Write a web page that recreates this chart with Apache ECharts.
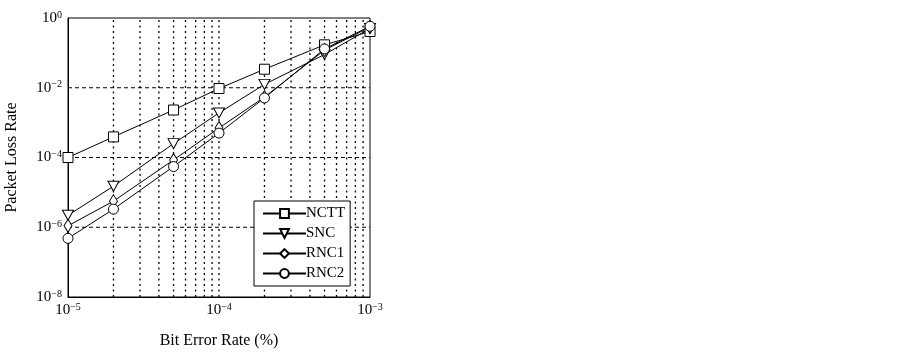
<!DOCTYPE html>
<html>
<head>
<meta charset="utf-8">
<script src="https://cdn.jsdelivr.net/npm/echarts@6/dist/echarts.min.js"></script>
<style>html,body{margin:0;padding:0;background:#fff;overflow:hidden}#c{width:903px;height:354px}</style>
</head>
<body>
<div id="c"></div>
<script>
const berValues = [1e-5, 2e-5, 5e-5, 1e-4, 2e-4, 5e-4, 1e-3];
const seriesNames = ['NCTT', 'SNC', 'RNC1', 'RNC2'];
const ncttValues = [1.0e-4, 3.9e-4, 2.3e-3, 9.5e-3, 3.4e-2, 0.17, 0.41];
const sncValues  = [2.2e-6, 1.5e-5, 2.5e-4, 1.9e-3, 1.25e-2, 0.09, 0.5];
const rnc1Values = [1.1e-6, 5.6e-6, 8.5e-5, 7.0e-4, 5.4e-3, 0.12, 0.55];
const rnc2Values = [4.8e-7, 3.3e-6, 5.5e-5, 5.0e-4, 5.1e-3, 0.13, 0.58];
const xGridValues = [2e-5, 3e-5, 4e-5, 5e-5, 6e-5, 7e-5, 8e-5, 9e-5, 1e-4, 2e-4, 3e-4, 4e-4, 5e-4, 6e-4, 7e-4, 8e-4, 9e-4];
const yGridValues = [1e-6, 1e-4, 1e-2];
const xRange = [1e-5, 1e-3];
const yRange = [1e-8, 1];

const FONT = 'Liberation Serif';
const symbols = ['rect', 'triangle', 'diamond', 'circle'];
const symbolRot = [0, 180, 0, 0];
const symbolSizes = [[10, 10], [11, 10], [8, 13], [10, 10]];
const allValues = [ncttValues, sncValues, rnc1Values, rnc2Values];

function powLabel(v) {
  const e = Math.round(Math.log10(v));
  const s = e < 0 ? '\u2212' + (-e) : String(e);
  return '{b|10}{s|' + s + '}';
}
const rich = {
  b: {fontFamily: FONT, fontSize: 15, color: '#000', lineHeight: 16, verticalAlign: 'middle'},
  s: {fontFamily: FONT, fontSize: 10, color: '#000', lineHeight: 10, verticalAlign: 'top'}
};

const vGridData = [];
xGridValues.forEach(v => { vGridData.push([v, yRange[0]], [v, yRange[1]], '-'); });
const hGridData = [];
yGridValues.forEach(v => { hGridData.push([xRange[0], v], [xRange[1], v], '-'); });

const series = seriesNames.map((name, i) => ({
  name: name,
  type: 'line',
  data: berValues.map((x, j) => [x, allValues[i][j]]),
  symbol: symbols[i],
  symbolRotate: symbolRot[i],
  symbolSize: symbolSizes[i],
  showAllSymbol: true,
  lineStyle: {color: '#000', width: 1},
  itemStyle: {color: '#fff', borderColor: '#000', borderWidth: 1},
  emphasis: {disabled: true},
  animation: false,
  z: 5
}));
series.push({
  name: 'vgrid', type: 'line', data: vGridData, symbol: 'none', silent: true, animation: false,
  connectNulls: false,
  lineStyle: {color: '#000', width: 1.3, type: [2, 3.5]}, z: 1
});
series.push({
  name: 'hgrid', type: 'line', data: hGridData, symbol: 'none', silent: true, animation: false,
  connectNulls: false,
  lineStyle: {color: '#000', width: 1, type: [4, 3]}, z: 1
});

const chart = echarts.init(document.getElementById('c'), null, {renderer: 'canvas', width: 903, height: 354});
chart.setOption({
  backgroundColor: '#fff',
  animation: false,
  grid: {left: 68, top: 18, width: 302, height: 287, show: true, borderColor: '#000', borderWidth: 1, backgroundColor: 'transparent'},
  legend: {
    data: seriesNames,
    orient: 'vertical',
    left: 254, top: 201,
    itemWidth: 43, itemHeight: 11, itemGap: 5,
    padding: [5, 5, 5, 8],
    backgroundColor: '#fff',
    borderColor: '#000', borderWidth: 1,
    textStyle: {fontFamily: FONT, fontSize: 15, lineHeight: 14, color: '#000', padding: [0, 0, 0, -5]},
    selectedMode: false
  },
  xAxis: {
    type: 'log', logBase: 10, min: xRange[0], max: xRange[1],
    name: 'Bit Error Rate (%)', nameLocation: 'middle', nameGap: 36,
    nameTextStyle: {fontFamily: FONT, fontSize: 16, color: '#000'},
    axisLine: {show: true, lineStyle: {color: '#000'}},
    axisTick: {show: false},
    splitLine: {show: false},
    axisLabel: {formatter: powLabel, rich: rich, margin: 5}
  },
  yAxis: {
    type: 'log', logBase: 10, min: yRange[0], max: yRange[1], interval: 2,
    name: 'Packet Loss Rate', nameLocation: 'middle', nameGap: 48,
    nameTextStyle: {fontFamily: FONT, fontSize: 16, color: '#000'},
    axisLine: {show: true, lineStyle: {color: '#000'}},
    axisTick: {show: false},
    splitLine: {show: false},
    axisLabel: {formatter: powLabel, rich: rich, margin: 6}
  },
  series: series
});
</script>
</body>
</html>
